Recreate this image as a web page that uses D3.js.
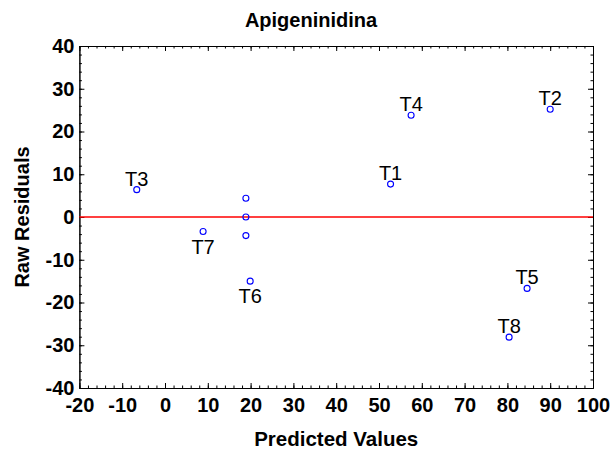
<!DOCTYPE html>
<html>
<head>
<meta charset="utf-8">
<script src="https://cdn.jsdelivr.net/npm/d3@7"></script>
<style>
  body { margin: 0; background: #fff; }
  svg { display: block; font-family: "Liberation Sans", Arial, sans-serif; }
</style>
</head>
<body>
<div id="chart"></div>
<script>
// residual plot data
const labels = ['T3', 'T7', '', '', '', 'T6', 'T1', 'T4', 'T2', 'T5', 'T8'];
const predicted = [-6.6, 8.9, 18.9, 18.9, 18.9, 19.9, 52.7, 57.5, 90.0, 84.6, 80.4];
const residuals = [6.4, -3.4, 4.4, 0.0, -4.35, -15.0, 7.7, 23.8, 25.2, -16.7, -28.1];
// where each label sits: above or below its point
const labelSide = ['up', 'down', '', '', '', 'down', 'up', 'up', 'up', 'up', 'up'];
const xTicks = [-20, -10, 0, 10, 20, 30, 40, 50, 60, 70, 80, 90, 100];
const yTicks = [-40, -30, -20, -10, 0, 10, 20, 30, 40];

const width = 614, height = 453;
const margin = {top: 46, right: 21, bottom: 65, left: 79.4};

const svg = d3.select('#chart').append('svg')
    .attr('width', width)
    .attr('height', height);

const x = d3.scaleLinear()
    .domain([-20, 100])
    .range([margin.left, width - margin.right]);
const y = d3.scaleLinear()
    .domain([-40, 40])
    .range([height - margin.bottom, margin.top]);

const minorX = d3.range(-20, 101, 2);
const minorY = d3.range(-40, 41, 2);
const plain = d => String(d); // hyphen minus, like the original

function styleAxis(g) {
    g.selectAll('path.domain').attr('stroke', '#000').attr('stroke-width', 1);
    g.selectAll('.tick line').attr('stroke', '#000');
    g.selectAll('.tick text')
        .attr('fill', '#000')
        .style('font-size', '20px')
        .style('font-weight', 'bold')
        .style('font-family', '"Liberation Sans", Arial, sans-serif');
}

// minor ticks on all four sides
svg.append('g')
    .attr('transform', `translate(0,${y(-40)})`)
    .call(d3.axisBottom(x).tickValues(minorX).tickSize(-2.5).tickSizeOuter(0).tickFormat(''))
    .call(styleAxis);
svg.append('g')
    .attr('transform', `translate(0,${y(40)})`)
    .call(d3.axisTop(x).tickValues(minorX).tickSize(-2.5).tickSizeOuter(0).tickFormat(''))
    .call(styleAxis);
svg.append('g')
    .attr('transform', `translate(${x(-20)},0)`)
    .call(d3.axisLeft(y).tickValues(minorY).tickSize(-2.5).tickSizeOuter(0).tickFormat(''))
    .call(styleAxis);
svg.append('g')
    .attr('transform', `translate(${x(100)},0)`)
    .call(d3.axisRight(y).tickValues(minorY).tickSize(-2.5).tickSizeOuter(0).tickFormat(''))
    .call(styleAxis);

// major ticks
svg.append('g')
    .attr('transform', `translate(0,${y(-40)})`)
    .call(d3.axisBottom(x).tickValues(xTicks).tickSize(-5).tickSizeOuter(0).tickPadding(10).tickFormat(plain))
    .call(styleAxis);
svg.append('g')
    .attr('transform', `translate(0,${y(40)})`)
    .call(d3.axisTop(x).tickValues(xTicks).tickSize(-5).tickSizeOuter(0).tickFormat(''))
    .call(styleAxis);
svg.append('g')
    .attr('transform', `translate(${x(-20)},0)`)
    .call(d3.axisLeft(y).tickValues(yTicks).tickSize(-5).tickSizeOuter(0).tickPadding(5).tickFormat(plain))
    .call(styleAxis);
svg.append('g')
    .attr('transform', `translate(${x(100)},0)`)
    .call(d3.axisRight(y).tickValues(yTicks).tickSize(-5).tickSizeOuter(0).tickFormat(''))
    .call(styleAxis);

// zero line
svg.append('line')
    .attr('x1', x(-20))
    .attr('x2', x(100))
    .attr('y1', y(0))
    .attr('y2', y(0))
    .attr('stroke', '#ff0000')
    .attr('stroke-width', 1.6);

const pts = predicted.map((p, i) => ({p: p, r: residuals[i], label: labels[i], side: labelSide[i]}));

svg.selectAll('.dot')
    .data(pts)
    .enter()
    .append('circle')
    .attr('class', 'dot')
    .attr('cx', d => x(d.p))
    .attr('cy', d => y(d.r))
    .attr('r', 3)
    .attr('fill', 'none')
    .attr('stroke', '#0000ff')
    .attr('stroke-width', 1.1);

svg.selectAll('.ptLabel')
    .data(pts.filter(d => d.label))
    .enter()
    .append('text')
    .attr('class', 'ptLabel')
    .attr('x', d => x(d.p))
    .attr('y', d => y(d.r) + (d.side === 'up' ? -4 : 22))
    .attr('text-anchor', 'middle')
    .style('font-size', '20px')
    .text(d => d.label);

// titles
svg.append('text')
    .attr('x', 311)
    .attr('y', 26.5)
    .attr('text-anchor', 'middle')
    .style('font-size', '20px')
    .style('font-weight', 'bold')
    .text('Apigeninidina');

svg.append('text')
    .attr('x', (x(-20) + x(100)) / 2)
    .attr('y', 446)
    .attr('text-anchor', 'middle')
    .style('font-size', '20.5px')
    .style('font-weight', 'bold')
    .text('Predicted Values');

svg.append('text')
    .attr('transform', `translate(29,${(y(40) + y(-40)) / 2}) rotate(-90)`)
    .attr('text-anchor', 'middle')
    .style('font-size', '20px')
    .style('font-weight', 'bold')
    .text('Raw Residuals');
</script>
</body>
</html>
